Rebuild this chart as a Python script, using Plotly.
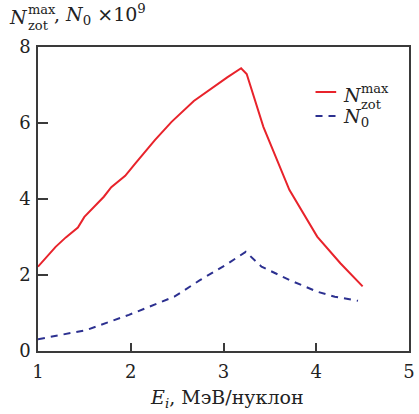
import plotly.graph_objects as go

# Energy per nucleon, MeV/nucleon, and counts (x10^9)
e_zot = [1.00, 1.19, 1.30, 1.43, 1.50, 1.71, 1.79, 1.94, 2.05, 2.26, 2.44, 2.68, 3.04, 3.19, 3.25, 3.43, 3.71, 4.01, 4.26, 4.50]
n_zot = [2.22, 2.74, 2.99, 3.25, 3.53, 4.06, 4.31, 4.61, 4.94, 5.55, 6.03, 6.58, 7.20, 7.44, 7.29, 5.90, 4.24, 3.01, 2.31, 1.70]

e_n0 = [1.00, 1.52, 1.98, 2.47, 2.75, 3.04, 3.24, 3.41, 3.71, 4.01, 4.20, 4.45]
n_0 = [0.31, 0.55, 0.95, 1.43, 1.87, 2.29, 2.61, 2.22, 1.87, 1.56, 1.43, 1.32]

x_ticks = [1, 2, 3, 4, 5]
y_ticks = [0, 2, 4, 6, 8]

RED = "#e8232b"
BLUE = "#2c3090"
FONT = "DejaVu Serif"
AX = "#3a3a3a"

W, H = 419, 414
ML, MR, MT, MB = 38, 4, 47, 63

fig = go.Figure()
fig.add_trace(go.Scatter(x=e_zot, y=n_zot, mode="lines",
                         line=dict(color=RED, width=2), showlegend=False))
fig.add_trace(go.Scatter(x=e_n0, y=n_0, mode="lines",
                         line=dict(color=BLUE, width=2, dash="7px,6px"), showlegend=False))

axis_common = dict(showgrid=False, zeroline=False, showline=True, linecolor=AX,
                   linewidth=1.5, mirror=True, ticks="inside", tickcolor=AX,
                   tickwidth=1.5, tickfont=dict(family=FONT, size=18, color="#222"))

fig.update_xaxes(range=[1, 5], tickvals=x_ticks, ticklen=8, ticklabelstandoff=4, **axis_common)
fig.update_yaxes(range=[0, 8], tickvals=y_ticks, ticklen=10, ticklabelstandoff=2, **axis_common)

txt = dict(family=FONT, size=19, color="#222")
small = dict(family=FONT, size=13, color="#222")


def px(xp, yp):
    # figure pixel position -> paper coordinates of the plot area
    return dict(x=(xp - ML) / (W - ML - MR), y=(H - MB - yp) / (H - MT - MB),
                xref="paper", yref="paper")


ann = []
# x axis title
ann.append(dict(**px(230, 413), xanchor="center", yanchor="bottom",
                text="<i>E<sub>i</sub></i>, МэВ/нуклон", showarrow=False, font=txt))

# y title at top left: N^max_zot, N0 x10^9
ann.append(dict(**px(7, 30), xanchor="left", yanchor="bottom", text="<i>N</i>", showarrow=False, font=txt))
ann.append(dict(**px(26, 19), xanchor="left", yanchor="bottom", text="max", showarrow=False, font=small))
ann.append(dict(**px(26, 16), xanchor="left", yanchor="top", text="zot", showarrow=False, font=small))
ann.append(dict(**px(52, 30), xanchor="left", yanchor="bottom",
                text=", <i>N</i><sub>0</sub> ×10<sup>9</sup>", showarrow=False, font=txt))

# legend
ann.append(dict(**px(346, 108), xanchor="left", yanchor="bottom", text="<i>N</i>", showarrow=False, font=txt))
ann.append(dict(**px(364, 98), xanchor="left", yanchor="bottom", text="max", showarrow=False, font=small))
ann.append(dict(**px(364, 95), xanchor="left", yanchor="top", text="zot", showarrow=False, font=small))
ann.append(dict(**px(346, 132), xanchor="left", yanchor="bottom", text="<i>N</i><sub>0</sub>",
                showarrow=False, font=txt))

lx0, lx1 = px(320, 0)["x"], px(341, 0)["x"]
shapes = [
    dict(type="line", xref="paper", yref="paper", x0=lx0, x1=lx1,
         y0=px(0, 92)["y"], y1=px(0, 92)["y"], line=dict(color=RED, width=2)),
    dict(type="line", xref="paper", yref="paper", x0=lx0, x1=lx1,
         y0=px(0, 116)["y"], y1=px(0, 116)["y"], line=dict(color=BLUE, width=2, dash="7px,6px")),
]

fig.update_layout(width=W, height=H, margin=dict(l=ML, r=MR, t=MT, b=MB),
                  plot_bgcolor="white", paper_bgcolor="white",
                  font=dict(family=FONT),
                  annotations=ann, shapes=shapes)

fig.write_html("out.html")
